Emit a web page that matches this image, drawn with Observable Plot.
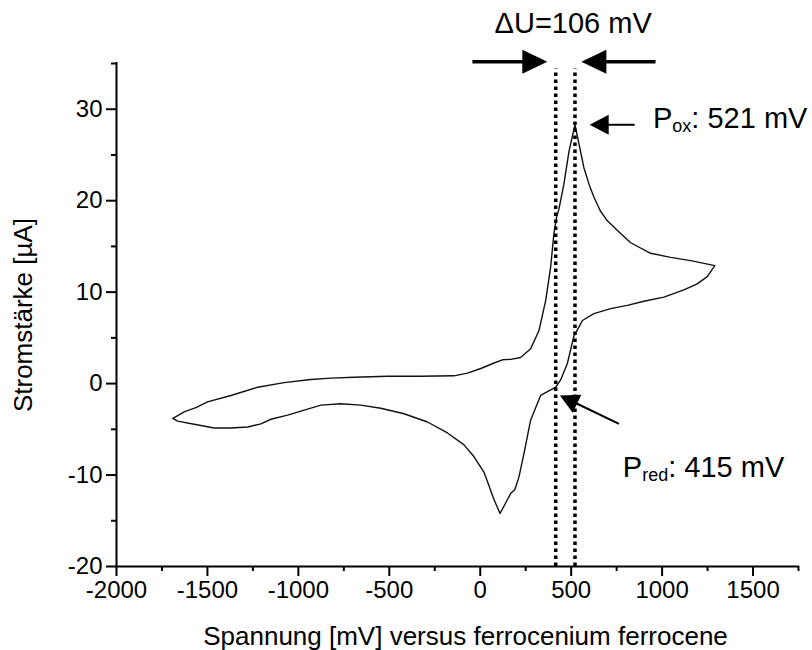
<!DOCTYPE html>
<html>
<head>
<meta charset="utf-8">
<script src="https://cdn.jsdelivr.net/npm/d3@7"></script>
<script src="https://cdn.jsdelivr.net/npm/@observablehq/plot@0.6"></script>
<style>
  html, body { margin: 0; padding: 0; background: #fff; }
</style>
</head>
<body>
<div id="chart"></div>
<script>
// Cyclic voltammogram: forward (anodic) branch, then reverse (cathodic) branch, closed loop
const voltage = [
  -1690, -1628, -1560, -1500, -1371, -1224, -1078, -931, -821, -693, -510, -327, -144, -70, 3, 76, 122, 168, 222,
  277, 323, 360, 387, 405, 420, 433, 460, 488, 521, 543, 570, 600, 625, 660, 699, 772, 827, 937, 1047, 1157, 1290,
  1248, 1193, 1120, 1010, 900, 809, 717, 625, 562, 543, 515, 479, 442, 415, 405, 332, 277, 241, 213, 190,
  168, 149, 109, 76, 21, -34, -89, -180, -290, -419, -547, -657, -766, -876, -968, -1059, -1151, -1206,
  -1279, -1371, -1463, -1573, -1664, -1690
];
const current = [
  -3.8, -3.1, -2.6, -2.0, -1.3, -0.4, 0.1, 0.45, 0.6, 0.7, 0.8, 0.8, 0.85, 1.15, 1.65, 2.25, 2.6, 2.65, 2.85,
  3.8, 5.8, 9.1, 12.7, 16.4, 18.2, 19.1, 21.8, 25.4, 28.3, 26.2, 23.6, 21.7, 20.4, 18.9, 17.8, 16.4, 15.4, 14.25, 13.8, 13.45, 12.9,
  11.7, 10.9, 10.25, 9.45, 9.0, 8.55, 8.2, 7.65, 6.9, 6.2, 5.2, 2.2, 0.4, -0.4, -0.5, -1.3, -4.0, -7.6, -10.2, -11.6,
  -12.0, -12.7, -14.2, -12.7, -9.7, -8.0, -6.7, -5.4, -4.2, -3.3, -2.7, -2.35, -2.2, -2.35, -2.9, -3.45, -3.9, -4.4,
  -4.75, -4.85, -4.85, -4.45, -4.1, -3.8
];

// Axis values
const xDomain = [-2000, 1750];
const yDomain = [-20, 35];
const xTicks = [-2000, -1500, -1000, -500, 0, 500, 1000, 1500];
const xMinorTicks = [-1750, -1250, -750, -250, 250, 750, 1250, 1750];
const yTicks = [-20, -10, 0, 10, 20, 30];
const yMinorTicks = [-15, -5, 5, 15, 25, 35];
const xLabel = "Spannung [mV] versus ferrocenium ferrocene";
const yLabel = "Stromstärke [µA]";

// Peak potentials (reduction, oxidation) in mV
const peakPotentials = [415, 521];
const peakLineTop = 34.4;

// Peak separation arrows (tail → tip)
const gapArrowX1 = [-43, 964];
const gapArrowX2 = [369, 556];
const gapArrowY = [35.2, 35.2];
const gapText = "ΔU=106 mV";
const gapTextPos = [511, 38.3];

// Peak label arrows (tail → tip): oxidation, reduction
const peakArrowX1 = [849, 763];
const peakArrowY1 = [28.3, -4.4];
const peakArrowX2 = [602, 438];
const peakArrowY2 = [28.3, -1.3];

// Peak labels: main symbol, subscript, value text, anchor position
const peakLabelMain = ["P", "P"];
const peakLabelSub = ["ox", "red"];
const peakLabelRest = [": 521 mV", ": 415 mV"];
const peakLabelX = [950, 784];
const peakLabelY = [27.9, -10.2];

// ---- layout ----
const W = 812, H = 650;
const M = {top: 63, right: 14, bottom: 84, left: 116};
const kx = (W - M.left - M.right) / (xDomain[1] - xDomain[0]);
const ky = (H - M.top - M.bottom) / (yDomain[1] - yDomain[0]);
const FONT = "'Liberation Sans', Arial, Helvetica, sans-serif";
const TICK_FS = 24, LABEL_FS = 26, NOTE_FS = 29, SUB_FS = 18;

// screen-space direction of a data segment, degrees clockwise
const screenAngle = (x1, y1, x2, y2) => Math.atan2(-(y2 - y1) * ky, (x2 - x1) * kx) * 180 / Math.PI;

// filled triangular head, tip at origin, pointing along +x
const arrowHead = (len, wid) => ({
  draw(context) {
    context.moveTo(0, 0);
    context.lineTo(-len, -wid / 2);
    context.lineTo(-len, wid / 2);
    context.closePath();
  }
});

// build arrow rows, shaft stops at the head base
function arrows(x1s, y1s, x2s, y2s, headLen) {
  return x1s.map((x1, i) => {
    const y1 = y1s[i], x2 = x2s[i], y2 = y2s[i];
    const angle = screenAngle(x1, y1, x2, y2);
    const a = angle * Math.PI / 180;
    return {
      x1, y1, x2, y2, angle,
      sx: x2 - (headLen - 1) * Math.cos(a) / kx,
      sy: y2 + (headLen - 1) * Math.sin(a) / ky
    };
  });
}

const GAP_HEAD = [25, 24], PEAK_HEAD = [19, 20];
const gapArrows = arrows(gapArrowX1, gapArrowY, gapArrowX2, gapArrowY, GAP_HEAD[0]);
const peakArrows = arrows(peakArrowX1, peakArrowY1, peakArrowX2, peakArrowY2, PEAK_HEAD[0]);

const curve = voltage.map((v, i) => ({v, c: current[i]}));
const peakLabels = peakLabelMain.map((m, i) => ({
  x: peakLabelX[i], y: peakLabelY[i], main: m, sub: peakLabelSub[i], rest: peakLabelRest[i]
}));

// subscript and remainder offsets from Arial-compatible advance widths
const P_W = 0.667 * NOTE_FS;
const SUB_W = {ox: (0.556 + 0.5) * SUB_FS, red: (0.333 + 0.556 + 0.556) * SUB_FS};
const plain = d => String(d);

const plot = Plot.plot({
  width: W,
  height: H,
  marginTop: M.top,
  marginRight: M.right,
  marginBottom: M.bottom,
  marginLeft: M.left,
  x: {domain: xDomain},
  y: {domain: yDomain},
  style: {fontFamily: FONT, color: "#000", background: "#fff", overflow: "visible"},
  marks: [
    // axes
    Plot.axisX({ticks: xTicks, tickSize: 10, tickPadding: 4, strokeWidth: 2, fontSize: TICK_FS, tickFormat: plain, label: null}),
    Plot.axisX({ticks: xMinorTicks, tickSize: 5, strokeWidth: 2, tickFormat: () => "", label: null}),
    Plot.axisY({ticks: yTicks, tickSize: 10, tickPadding: 4, strokeWidth: 2, fontSize: TICK_FS, tickFormat: plain, label: null}),
    Plot.axisY({ticks: yMinorTicks, tickSize: 5, strokeWidth: 2, tickFormat: () => "", label: null}),
    Plot.ruleX([xDomain[0]], {stroke: "#000", strokeWidth: 2, strokeLinecap: "square"}),
    Plot.ruleY([yDomain[0]], {stroke: "#000", strokeWidth: 2, strokeLinecap: "square"}),
    Plot.text([xLabel], {frameAnchor: "bottom", dx: 8, dy: 78, lineAnchor: "bottom", textAnchor: "middle", fontSize: LABEL_FS, fill: "#000"}),
    Plot.text([yLabel], {frameAnchor: "left", dx: -103, rotate: -90, lineAnchor: "top", textAnchor: "middle", fontSize: LABEL_FS, fill: "#000"}),

    // voltammogram
    Plot.line(curve, {x: "v", y: "c", stroke: "#111", strokeWidth: 1.4, strokeLinejoin: "round", curve: "linear"}),

    // peak potential markers
    Plot.ruleX(peakPotentials, {y1: yDomain[0], y2: peakLineTop, stroke: "#000", strokeWidth: 3.5, strokeDasharray: "3.5,3.5"}),

    // peak separation arrows
    Plot.link(gapArrows, {x1: "x1", y1: "y1", x2: "sx", y2: "sy", stroke: "#000", strokeWidth: 3.5}),
    Plot.dot(gapArrows, {x: "x2", y: "y2", rotate: "angle", symbol: arrowHead(...GAP_HEAD), fill: "#000", stroke: "none"}),
    Plot.text([gapText], {x: gapTextPos[0], y: gapTextPos[1], lineAnchor: "bottom", textAnchor: "middle", fontSize: NOTE_FS, fill: "#000"}),

    // peak label arrows
    Plot.link(peakArrows, {x1: "x1", y1: "y1", x2: "sx", y2: "sy", stroke: "#000", strokeWidth: 2}),
    Plot.dot(peakArrows, {x: "x2", y: "y2", rotate: "angle", symbol: arrowHead(...PEAK_HEAD), fill: "#000", stroke: "none"}),

    // peak labels with subscripts
    Plot.text(peakLabels, {x: "x", y: "y", text: "main", textAnchor: "start", lineAnchor: "bottom", fontSize: NOTE_FS, fill: "#000"}),
    Plot.text(peakLabels, {x: "x", y: "y", text: "sub", textAnchor: "start", lineAnchor: "bottom", dx: P_W, dy: 4, fontSize: SUB_FS, fill: "#000"}),
    Plot.text(peakLabels, {x: "x", y: "y", text: "rest", textAnchor: "start", lineAnchor: "bottom",
      dx: P_W + SUB_W.ox, fontSize: NOTE_FS, fill: "#000", filter: d => d.sub === "ox"}),
    Plot.text(peakLabels, {x: "x", y: "y", text: "rest", textAnchor: "start", lineAnchor: "bottom",
      dx: P_W + SUB_W.red, fontSize: NOTE_FS, fill: "#000", filter: d => d.sub === "red"})
  ]
});

document.getElementById("chart").append(plot);
</script>
</body>
</html>
